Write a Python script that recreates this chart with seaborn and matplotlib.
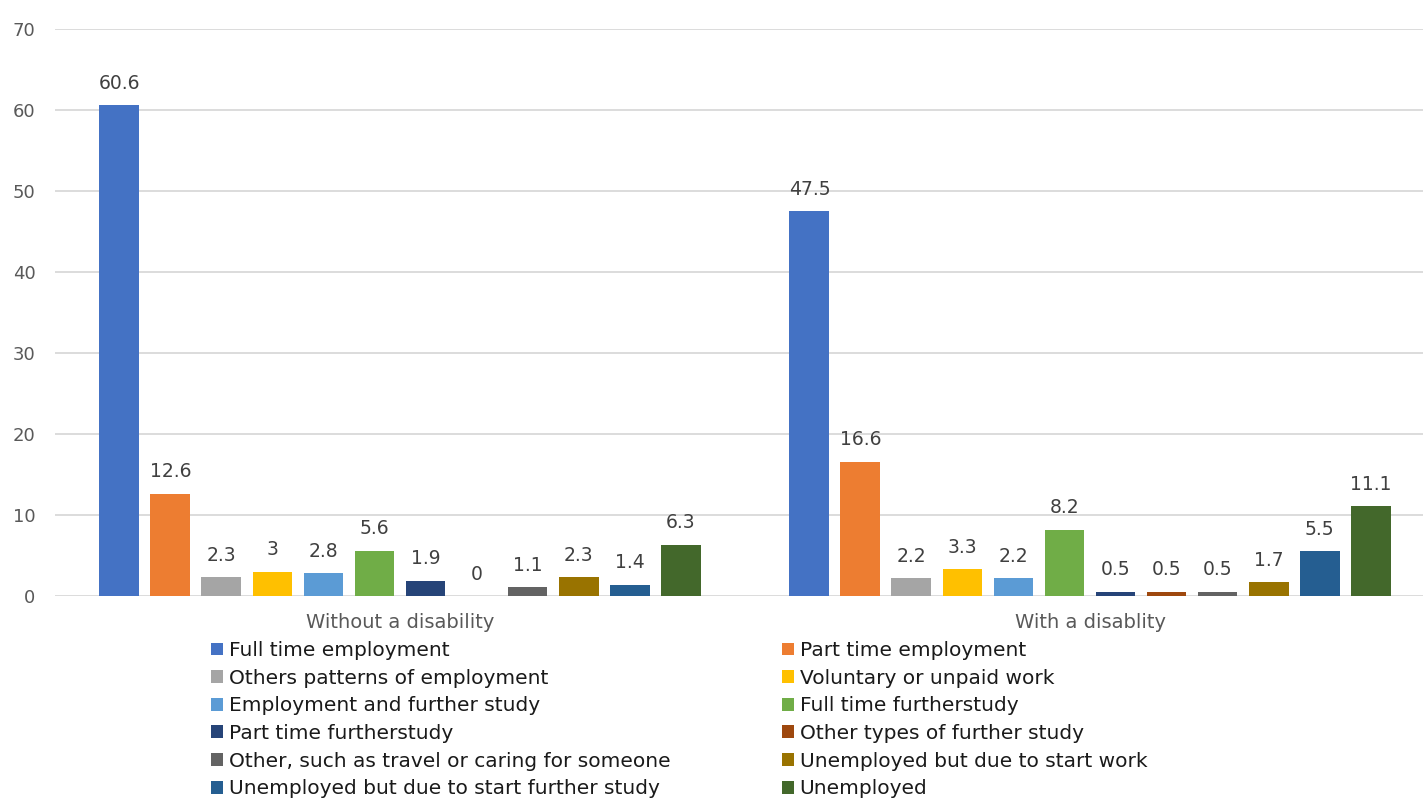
import matplotlib
matplotlib.use("Agg")
import matplotlib.pyplot as plt
from matplotlib.patches import Patch
import seaborn as sns
import pandas as pd

groups = ["Without a disability", "With a disablity"]
categories = [
    "Full time employment",
    "Part time employment",
    "Others patterns of employment",
    "Voluntary or unpaid work",
    "Employment and further study",
    "Full time furtherstudy",
    "Part time furtherstudy",
    "Other types of further study",
    "Other, such as travel or caring for someone",
    "Unemployed but due to start work",
    "Unemployed but due to start further study",
    "Unemployed",
]
without_disability = [60.6, 12.6, 2.3, 3, 2.8, 5.6, 1.9, 0, 1.1, 2.3, 1.4, 6.3]
with_disability = [47.5, 16.6, 2.2, 3.3, 2.2, 8.2, 0.5, 0.5, 0.5, 1.7, 5.5, 11.1]
colors = ["#4472C4", "#ED7D31", "#A5A5A5", "#FFC000", "#5B9BD5", "#70AD47",
          "#264478", "#9E480E", "#636363", "#997300", "#255E91", "#43682B"]
y_ticks = [0, 10, 20, 30, 40, 50, 60, 70]

rows = []
for grp, vals in zip(groups, [without_disability, with_disability]):
    for cat, v in zip(categories, vals):
        rows.append({"group": grp, "category": cat, "value": v})
df = pd.DataFrame(rows)

sns.set_theme(style="white")
plt.rcParams["font.family"] = ["DejaVu Sans"]

W, H = 1423, 799
fig = plt.figure(figsize=(W / 100, H / 100), dpi=100)
ax = fig.add_axes([55 / W, 1 - 596 / H, 1380 / W, 567 / H])

sns.barplot(data=df, x="group", y="value", hue="category",
            order=groups, hue_order=categories, palette=colors,
            saturation=1, width=0.887, gap=0.216, legend=False, ax=ax,
            errorbar=None, linewidth=0)

for cont in ax.containers:
    ax.bar_label(cont, labels=[f"{v:g}" for v in cont.datavalues],
                 padding=9, fontsize=13.5, color="#404040")

ax.set_ylim(0, 70)
ax.set_yticks(y_ticks)
ax.set_xlim(-0.5, 1.5)
ax.yaxis.grid(True, color="#D9D9D9", linewidth=1.3)
ax.set_axisbelow(True)
for s in ax.spines.values():
    s.set_visible(False)
ax.tick_params(axis="y", length=0, labelsize=13, labelcolor="#595959", pad=14)
ax.tick_params(axis="x", length=0, labelsize=14, labelcolor="#595959", pad=12)
ax.set_xlabel("")
ax.set_ylabel("")

# legend filled row by row across two columns
order = list(range(0, 12, 2)) + list(range(1, 12, 2))
handles = [Patch(facecolor=colors[i], edgecolor="none") for i in order]
labels = [categories[i] for i in order]
fig.legend(handles, labels, ncol=2, frameon=False,
           loc="upper left", bbox_to_anchor=(211 / W, 1 - 641 / H),
           fontsize=14.5, handlelength=0.6, handleheight=0.6,
           handletextpad=0.3, columnspacing=5.5, labelspacing=0.43,
           labelcolor="#1a1a1a", borderpad=0, borderaxespad=0)

fig.savefig("out.png", dpi=100)
